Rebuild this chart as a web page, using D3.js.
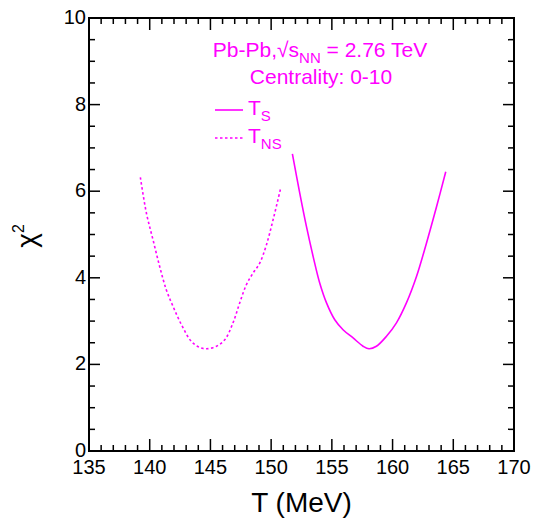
<!DOCTYPE html>
<html>
<head>
<meta charset="utf-8">
<script src="https://cdn.jsdelivr.net/npm/d3@7/dist/d3.min.js"></script>
<style>
  body { margin: 0; background: #fff; }
  svg { display: block; }
  text { font-family: "Liberation Sans", Arial, sans-serif; }
</style>
</head>
<body>
<svg id="chart" width="534" height="519"></svg>
<script>
// Data
const tnsT   = [139.23, 139.73, 140.27, 140.82, 141.37, 141.92, 142.61, 143.43, 144.12, 144.67, 145.49, 146.18, 146.86, 147.41, 147.96, 148.51, 149.06, 149.61, 150.16, 150.76];
const tnsChi = [6.32, 5.49, 4.88, 4.26, 3.72, 3.34, 2.92, 2.53, 2.39, 2.36, 2.42, 2.57, 2.96, 3.42, 3.84, 4.11, 4.34, 4.76, 5.34, 6.04];
const tsT    = [151.75, 152.36, 152.91, 153.46, 154.0, 154.56, 155.24, 155.92, 156.75, 157.57, 158.06, 158.67, 159.5, 160.32, 161.14, 161.97, 162.79, 163.62, 164.38];
const tsChi  = [6.86, 5.95, 5.18, 4.49, 3.88, 3.42, 3.03, 2.80, 2.61, 2.42, 2.36, 2.42, 2.65, 2.96, 3.42, 4.03, 4.80, 5.64, 6.45];
const xMajorTicks = [135, 140, 145, 150, 155, 160, 165, 170];
const yMajorTicks = [0, 2, 4, 6, 8, 10];
const xDomain = [135, 170];
const yDomain = [0, 10];

const color = "#ff00ff";
const svg = d3.select("#chart");
const L = 89, R = 514, T = 18, B = 451;

const x = d3.scaleLinear().domain(xDomain).range([L, R]);
const y = d3.scaleLinear().domain(yDomain).range([B, T]);

const xMinor = d3.range(xDomain[0], xDomain[1] + 0.001, 1).filter(v => !xMajorTicks.includes(v));
const yMinor = d3.range(yDomain[0], yDomain[1] + 0.001, 0.5).filter(v => !yMajorTicks.includes(v));

const ax = svg.append("g").attr("stroke", "#000").attr("stroke-width", 1.5);
xMajorTicks.forEach(v => {
  ax.append("line").attr("x1", x(v)).attr("x2", x(v)).attr("y1", B).attr("y2", B - 12);
  ax.append("line").attr("x1", x(v)).attr("x2", x(v)).attr("y1", T).attr("y2", T + 12);
});
xMinor.forEach(v => {
  ax.append("line").attr("x1", x(v)).attr("x2", x(v)).attr("y1", B).attr("y2", B - 6);
  ax.append("line").attr("x1", x(v)).attr("x2", x(v)).attr("y1", T).attr("y2", T + 6);
});
yMajorTicks.forEach(v => {
  ax.append("line").attr("y1", y(v)).attr("y2", y(v)).attr("x1", L).attr("x2", L + 11);
  ax.append("line").attr("y1", y(v)).attr("y2", y(v)).attr("x1", R).attr("x2", R - 11);
});
yMinor.forEach(v => {
  ax.append("line").attr("y1", y(v)).attr("y2", y(v)).attr("x1", L).attr("x2", L + 6);
  ax.append("line").attr("y1", y(v)).attr("y2", y(v)).attr("x1", R).attr("x2", R - 6);
});
svg.append("rect").attr("x", L).attr("y", T).attr("width", R - L).attr("height", B - T)
  .attr("fill", "none").attr("stroke", "#000").attr("stroke-width", 2);

// tick labels
svg.append("g").selectAll("text").data(xMajorTicks).join("text")
  .attr("x", d => x(d)).attr("y", B + 23).attr("text-anchor", "middle")
  .attr("font-size", 20).text(d => d);
svg.append("g").selectAll("text").data(yMajorTicks).join("text")
  .attr("x", L - 3).attr("y", d => y(d) + 6).attr("text-anchor", "end")
  .attr("font-size", 20).text(d => d);

// axis titles
svg.append("text").attr("x", (L + R) / 2).attr("y", 512).attr("text-anchor", "middle")
  .attr("font-size", 28).text("T (MeV)");
const yt = svg.append("text").attr("transform", "translate(36,236) rotate(-90)")
  .attr("text-anchor", "middle").attr("font-size", 28);
yt.append("tspan").text("χ");
yt.append("tspan").attr("dy", -12).attr("font-size", 16).text("2");

// curves
const line = d3.line().x(d => x(d[0])).y(d => y(d[1])).curve(d3.curveCatmullRom.alpha(0.5));
svg.append("path").datum(d3.zip(tnsT, tnsChi)).attr("d", line)
  .attr("fill", "none").attr("stroke", color).attr("stroke-width", 1.6).attr("stroke-dasharray", "2.5,2.5");
svg.append("path").datum(d3.zip(tsT, tsChi)).attr("d", line)
  .attr("fill", "none").attr("stroke", color).attr("stroke-width", 1.6);

// legend
const lg = svg.append("g").attr("fill", color);
const t1 = lg.append("text").attr("x", 320).attr("y", 57).attr("text-anchor", "middle").attr("font-size", 21);
t1.append("tspan").text("Pb-Pb,");
t1.append("tspan").text("√s");
t1.append("tspan").attr("dy", 6).attr("font-size", 15).text("NN");
t1.append("tspan").attr("dy", -6).text(" = 2.76 TeV");
lg.append("text").attr("x", 321).attr("y", 84).attr("text-anchor", "middle").attr("font-size", 21).text("Centrality: 0-10");

svg.append("line").attr("x1", 215).attr("x2", 243).attr("y1", 110).attr("y2", 110)
  .attr("stroke", color).attr("stroke-width", 1.6);
const l1 = lg.append("text").attr("x", 248).attr("y", 115).attr("font-size", 21);
l1.append("tspan").text("T");
l1.append("tspan").attr("dy", 6).attr("font-size", 15).text("S");
svg.append("line").attr("x1", 215).attr("x2", 243).attr("y1", 138).attr("y2", 138)
  .attr("stroke", color).attr("stroke-width", 1.6).attr("stroke-dasharray", "2.5,2.5");
const l2 = lg.append("text").attr("x", 248).attr("y", 143).attr("font-size", 21);
l2.append("tspan").text("T");
l2.append("tspan").attr("dy", 6).attr("font-size", 15).text("NS");
</script>
</body>
</html>
